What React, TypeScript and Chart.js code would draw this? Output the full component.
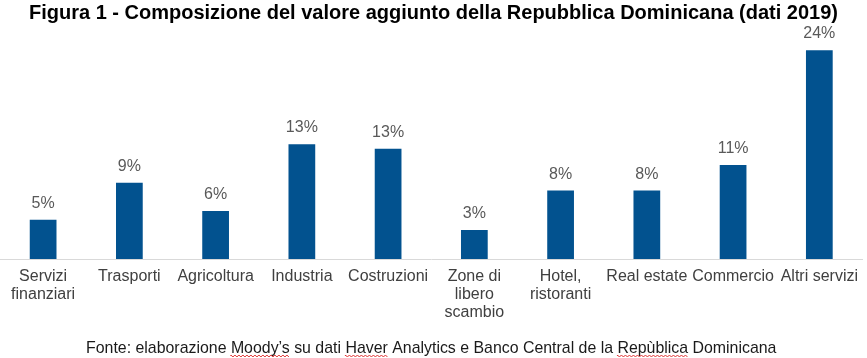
import React, { useEffect, useRef } from 'react';
import { Chart, registerables } from 'chart.js';

Chart.register(...registerables);

const categories: (string | string[])[] = [
  ['Servizi', 'finanziari'],
  'Trasporti',
  'Agricoltura',
  'Industria',
  'Costruzioni',
  ['Zone di', 'libero', 'scambio'],
  ['Hotel,', 'ristoranti'],
  'Real estate',
  'Commercio',
  'Altri servizi',
];
const shares = [4.6, 8.9, 5.6, 13.4, 12.9, 3.4, 8.0, 8.0, 11.0, 24.4];
const titleText = 'Figura 1 - Composizione del valore aggiunto della Repubblica Dominicana (dati 2019)';
const sourceText = 'Fonte: elaborazione Moody’s su dati Haver Analytics e Banco Central de la Repùblica Dominicana';
const flaggedWords = ['Moody’s', 'Haver', 'Repùblica'];

const FONT = '"Liberation Sans", Arial, sans-serif';

const decorPlugin = {
  id: 'decor',
  afterDatasetsDraw(chart: any) {
    const ctx = chart.ctx;
    const meta = chart.getDatasetMeta(0);
    ctx.save();
    ctx.font = `16px ${FONT}`;
    ctx.fillStyle = '#595959';
    ctx.textAlign = 'center';
    ctx.textBaseline = 'alphabetic';
    meta.data.forEach((bar: any, i: number) => {
      ctx.fillText(`${Math.round(shares[i])}%`, bar.x, bar.y - 12);
    });
    ctx.restore();
  },
  afterDraw(chart: any) {
    const ctx = chart.ctx;
    const w = chart.width;
    ctx.save();
    ctx.fillStyle = '#000000';
    ctx.textAlign = 'center';
    ctx.textBaseline = 'alphabetic';
    ctx.font = `bold 20px ${FONT}`;
    ctx.fillText(titleText, w / 2, 19);

    ctx.font = `15.9px ${FONT}`;
    ctx.fillStyle = '#1a1a1a';
    const fy = 353;
    const total = ctx.measureText(sourceText).width;
    const x0 = 86;
    ctx.textAlign = 'left';
    ctx.fillText(sourceText, x0, fy);
    ctx.strokeStyle = '#e03030';
    ctx.lineWidth = 1;
    flaggedWords.forEach((word) => {
      const idx = sourceText.indexOf(word);
      const a = x0 + ctx.measureText(sourceText.slice(0, idx)).width;
      const b = a + ctx.measureText(word).width;
      ctx.beginPath();
      let up = true;
      ctx.moveTo(a, fy + 3);
      for (let x = a; x <= b; x += 2) {
        ctx.lineTo(x, fy + (up ? 2 : 4));
        up = !up;
      }
      ctx.stroke();
    });
    void total;
    ctx.restore();
  },
};

export default function App() {
  const ref = useRef<HTMLCanvasElement | null>(null);
  useEffect(() => {
    if (!ref.current) return;
    const chart = new Chart(ref.current, {
      type: 'bar',
      data: {
        labels: categories,
        datasets: [
          {
            data: shares,
            backgroundColor: '#02528f',
            borderWidth: 0,
            categoryPercentage: 1,
            barPercentage: 0.31,
          },
        ],
      },
      options: {
        responsive: false,
        animation: false,
        devicePixelRatio: 1,
        layout: { padding: { top: 28, bottom: 27, left: 0, right: 0 } },
        plugins: {
          legend: { display: false },
          tooltip: { enabled: false },
          title: { display: false },
        },
        scales: {
          x: {
            grid: { display: false, drawTicks: false },
            border: { display: true, color: '#d9d9d9', width: 1 },
            ticks: {
              autoSkip: false,
              maxRotation: 0,
              minRotation: 0,
              padding: 9,
              color: '#404040',
              font: { family: FONT, size: 16, lineHeight: 1.125 },
            },
          },
          y: {
            display: false,
            min: 0,
            max: 27,
          },
        },
      },
      plugins: [decorPlugin],
    });
    return () => chart.destroy();
  }, []);
  return (
    <div style={{ position: 'absolute', left: 0, top: 0, width: 867, height: 358, background: '#fff' }}>
      <canvas ref={ref} width={867} height={358} />
    </div>
  );
}
